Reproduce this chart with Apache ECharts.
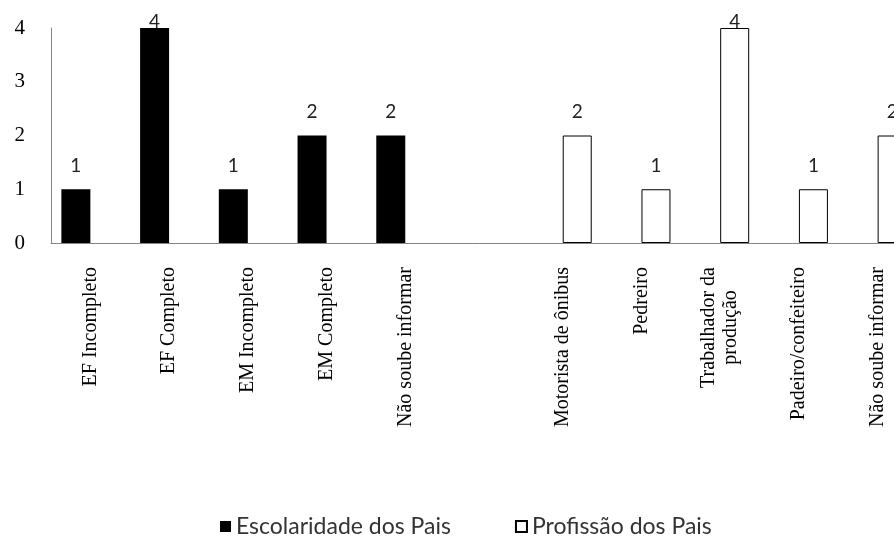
<!DOCTYPE html>
<html>
<head>
<meta charset="utf-8">
<script src="https://cdn.jsdelivr.net/npm/echarts@6/dist/echarts.min.js"></script>
<style>
  html, body { margin: 0; padding: 0; background: #fff; }
  #chart { width: 894px; height: 548px; }
</style>
</head>
<body>
<div id="chart"></div>
<script>
// Parents' schooling and occupation counts
const escolaridadeCats = ['EF Incompleto', 'EF Completo', 'EM Incompleto', 'EM Completo', 'Não soube informar'];
const escolaridadeVals = [1, 4, 1, 2, 2];
const profissaoCats = ['Motorista de ônibus', 'Pedreiro', 'Trabalhador da\nprodução', 'Padeiro/confeiteiro', 'Não soube informar'];
const profissaoVals = [2, 1, 4, 1, 2];
const yTicks = [0, 1, 2, 3, 4];
const seriesNames = ['Escolaridade dos Pais', 'Profissão dos Pais'];

const yMax = yTicks[yTicks.length - 1];

// One blank category separates the two groups
const categories = [...escolaridadeCats, '', ...profissaoCats];
const blank = n => new Array(n).fill('-');

// Labels of bars reaching the top of the axis sit just on the bar
function toItems(vals) {
  return vals.map(v => v === yMax ? { value: v, label: { distance: -3 } } : v);
}
const escData = [...toItems(escolaridadeVals), ...blank(1 + profissaoVals.length)];
const profData = [...blank(escolaridadeVals.length + 1), ...toItems(profissaoVals)];

const serif = '"Liberation Serif", "Times New Roman", serif';
const sans = 'Lato, "Open Sans", sans-serif';

const chart = echarts.init(document.getElementById('chart'), null, { renderer: 'canvas' });
chart.setOption({
  animation: false,
  backgroundColor: '#fff',
  // The plot runs past the right edge of the canvas, so the last group is clipped
  grid: { left: 51, top: 28, width: 866, height: 215, containLabel: false, outerBoundsMode: 'none' },
  legend: {
    top: 510,
    left: 215,
    itemWidth: 11,
    itemHeight: 11,
    itemGap: 64,
    icon: 'rect',
    textStyle: { fontFamily: sans, fontSize: 23, color: '#333' },
    data: seriesNames
  },
  xAxis: {
    type: 'category',
    data: categories,
    axisLine: { lineStyle: { color: '#868686', width: 1 } },
    axisTick: { show: false },
    axisLabel: {
      interval: 0,
      rotate: 90,
      margin: 24,
      color: '#000',
      fontFamily: serif,
      fontSize: 20,
      lineHeight: 22,
      formatter: v => v.split('\n').map(s => '{c|' + s + '}').join('\n'),
      rich: { c: { align: 'center', fontFamily: serif, fontSize: 20, lineHeight: 22, color: '#000' } }
    }
  },
  yAxis: {
    type: 'value',
    min: yTicks[0],
    max: yMax,
    interval: 1,
    splitLine: { show: false },
    axisLine: { show: true, lineStyle: { color: '#868686', width: 1 } },
    axisTick: { show: false },
    axisLabel: { margin: 26, color: '#000', fontFamily: serif, fontSize: 21 }
  },
  series: [
    {
      name: seriesNames[0],
      type: 'bar',
      data: escData,
      barWidth: 29,
      barGap: 0,
      itemStyle: { color: '#000' },
      label: { show: true, position: 'top', distance: 14, color: '#222', fontFamily: sans, fontSize: 19 }
    },
    {
      name: seriesNames[1],
      type: 'bar',
      data: profData,
      barWidth: 29,
      barGap: 0,
      itemStyle: { color: '#fff', borderColor: '#000', borderWidth: 1 },
      label: { show: true, position: 'top', distance: 14, color: '#222', fontFamily: sans, fontSize: 19 }
    }
  ]
});
</script>
</body>
</html>
